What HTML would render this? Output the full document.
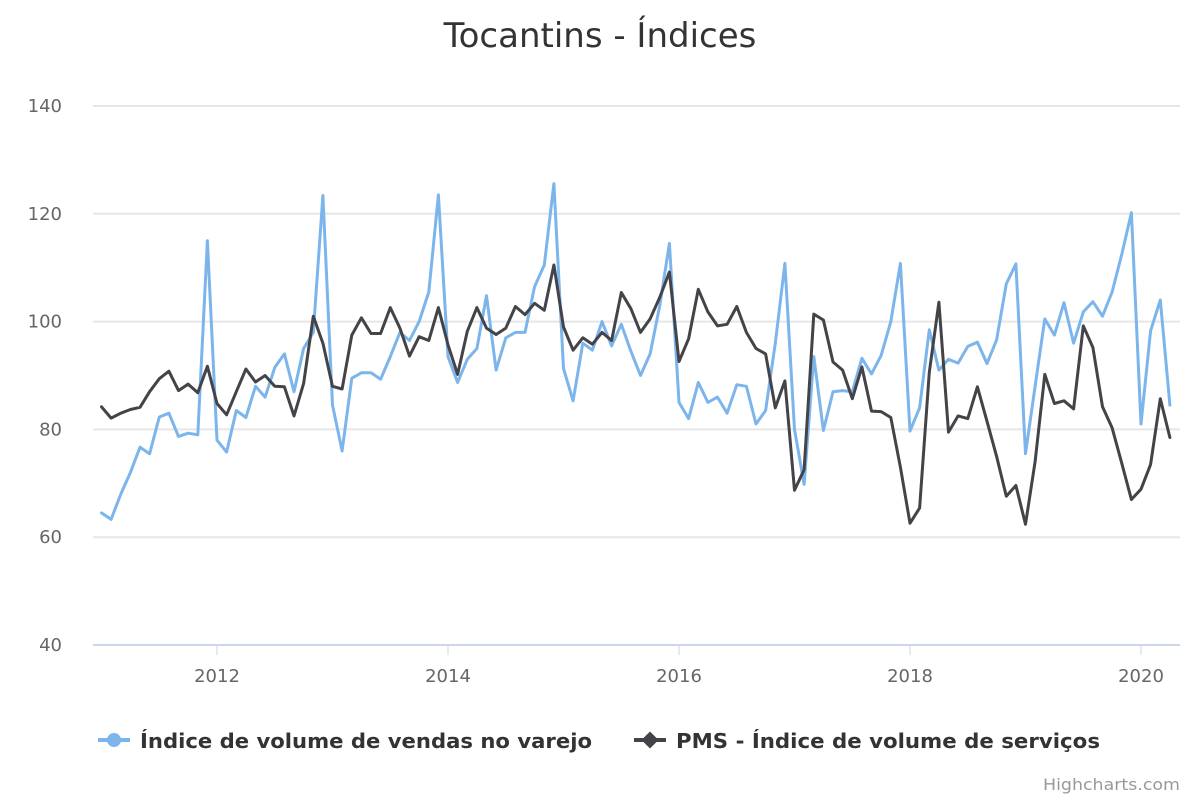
<!DOCTYPE html>
<html><head><meta charset="utf-8"><style>
body{margin:0;background:#fff;}
svg{font-family:"DejaVu Sans","Liberation Sans",sans-serif;}
</style></head><body>
<svg id="chart" width="1200" height="800">
<rect width="1200" height="800" fill="#fff"/>
<text x="600" y="47" text-anchor="middle" font-size="34" fill="#333">Tocantins - Índices</text>
<g id="grid"></g>
<g id="xaxis"></g>
<g id="series"></g>
<g>
<g>
<line x1="98" y1="740" x2="130" y2="740" stroke="#7cb5ec" stroke-width="4"/>
<circle cx="114" cy="740" r="7" fill="#7cb5ec"/>
<text x="140" y="748" font-size="20" font-weight="bold" fill="#333" textLength="452" lengthAdjust="spacingAndGlyphs">Índice de volume de vendas no varejo</text>
</g>
<g>
<line x1="634" y1="740" x2="666" y2="740" stroke="#434348" stroke-width="4"/>
<rect x="644" y="734" width="12" height="12" fill="#434348" transform="rotate(45 650 740)"/>
<text x="676" y="748" font-size="20" font-weight="bold" fill="#333" textLength="424" lengthAdjust="spacingAndGlyphs">PMS - Índice de volume de serviços</text>
</g>
</g>
<text x="1180" y="790" text-anchor="end" font-size="16" fill="#999" textLength="137" lengthAdjust="spacingAndGlyphs">Highcharts.com</text>
</svg>
<script>
const yTicks=[40,60,80,100,120,140];
const xTickYears=[2012,2014,2016,2018,2020];
const startYear=2011;
const varejo=[64.5,63.3,68,72,76.7,75.5,82.3,83,78.7,79.3,79,115,
78,75.8,83.5,82.2,88,86,91.5,94,87,95,98,123.4,
84.5,76,89.5,90.5,90.5,89.3,93.5,98,96.5,100,105.5,123.5,
93.5,88.7,93,95,104.8,91,97,98,98,106.5,110.5,125.6,
91.3,85.3,96,94.7,100,95.5,99.5,94.5,90,94,103,114.5,
85,82,88.7,85,86,83,88.3,88,81,83.5,96,110.8,
80,69.8,93.5,79.8,87,87.2,87,93.2,90.3,93.7,100,110.8,
79.7,84,98.5,91,93,92.3,95.4,96.2,92.2,96.6,107,110.7,
75.5,88,100.5,97.5,103.5,96,101.8,103.7,101,105.5,112.5,120.2,
81,98.3,104,84.5];
const servicos=[84.2,82.1,83,83.7,84.1,87,89.4,90.8,87.2,88.4,86.8,91.7,
84.8,82.7,87,91.2,88.8,90,88,87.9,82.5,88.5,101,96,
88,87.5,97.5,100.7,97.8,97.8,102.6,98.8,93.6,97.2,96.5,102.6,
95.7,90.2,98.2,102.6,98.8,97.6,98.8,102.8,101.3,103.4,102.1,110.5,
99,94.7,97,95.8,98,96.5,105.4,102.4,98,100.5,104.5,109.2,
92.6,96.8,106,101.8,99.2,99.5,102.8,98,95,94,84,89,
68.7,72.5,101.4,100.3,92.5,91,85.7,91.6,83.4,83.3,82.2,73,
62.6,65.4,90.6,103.6,79.5,82.5,82,87.9,81.5,75,67.6,69.6,
62.4,74,90.2,84.8,85.3,83.8,99.2,95.2,84.2,80.3,73.7,67,
68.9,73.5,85.7,78.5];
const NS='http://www.w3.org/2000/svg';
const X0=93,X1=1180,YT=106,YB=645;
const xOf=i=>101.5+i*9.625;
const yOf=v=>YB-(v-40)/100*(YB-YT);
function mk(tag,attrs,parent){const e=document.createElementNS(NS,tag);for(const k in attrs)e.setAttribute(k,attrs[k]);parent.appendChild(e);return e;}
const grid=document.getElementById('grid');
yTicks.forEach(v=>{
  const y=yOf(v);
  if(v!==40){const l=mk('line',{x1:X0,x2:X1,y1:y,y2:y,stroke:'#e6e6e6','stroke-width':2},grid);
  
  }
  const t=mk('text',{x:62,y:y+6,'text-anchor':'end','font-size':18,fill:'#666'},grid);
  t.textContent=v;
  
  
});
const xa=document.getElementById('xaxis');
mk('line',{x1:X0,x2:X1,y1:YB,y2:YB,stroke:'#ccd6eb','stroke-width':2},xa);
xTickYears.forEach(yr=>{
  const x=xOf((yr-startYear)*12);
  mk('line',{x1:x,x2:x,y1:YB,y2:YB+10,stroke:'#ccd6eb','stroke-width':1},xa);
  const t=mk('text',{x:x,y:682,'text-anchor':'middle','font-size':18,fill:'#666'},xa);
  t.textContent=yr;
  
  
});
const sg=document.getElementById('series');
function line(data,color,name){
  const d=data.map((v,i)=>(i?'L':'M')+xOf(i).toFixed(1)+' '+yOf(v).toFixed(1)).join(' ');
  const p=mk('path',{d:d,fill:'none',stroke:color,'stroke-width':3,'stroke-linejoin':'round','stroke-linecap':'round'},sg);
  
  
}
line(varejo,'#7cb5ec','line-varejo');
line(servicos,'#434348','line-servicos');
</script>
</body></html>
